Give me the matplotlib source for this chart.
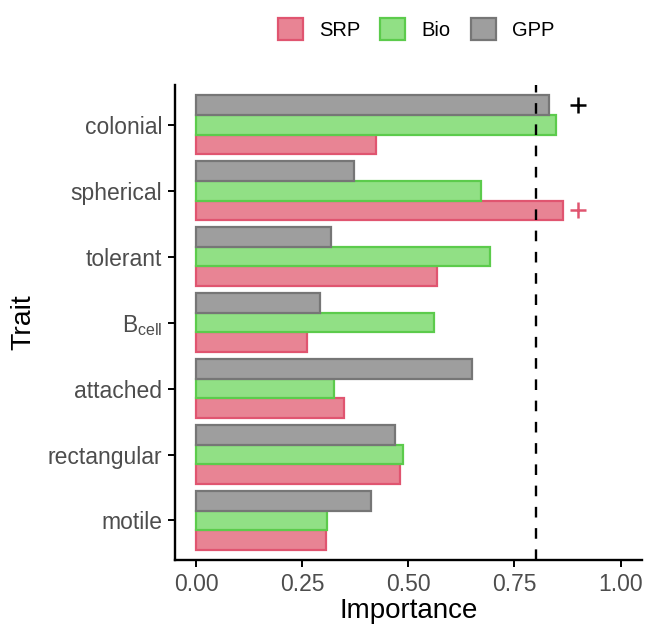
import numpy as np
import matplotlib.pyplot as plt
from matplotlib.patches import Patch

plt.rcParams['font.family'] = ['Liberation Sans', 'DejaVu Sans']
plt.rcParams['mathtext.default'] = 'regular'

# trait importance per response
traits = ['colonial', 'spherical', 'tolerant', r'B$_{cell}$', 'attached', 'rectangular', 'motile']
srp = [0.424, 0.865, 0.567, 0.261, 0.349, 0.481, 0.307]
bio = [0.847, 0.671, 0.692, 0.560, 0.324, 0.487, 0.309]
gpp = [0.832, 0.371, 0.317, 0.291, 0.651, 0.469, 0.412]
threshold = 0.80

# significant traits marked with "+"
sig_traits = ['colonial', 'spherical']
sig_series = ['GPP', 'SRP']
sig_x = 0.90

series = ['SRP', 'Bio', 'GPP']
values = {'SRP': srp, 'Bio': bio, 'GPP': gpp}
fills = {'SRP': '#E88494', 'Bio': '#91E085', 'GPP': '#9E9E9E'}
edges = {'SRP': '#E05570', 'Bio': '#5CCB4C', 'GPP': '#767676'}
mark_col = {'SRP': '#E05570', 'Bio': '#5CCB4C', 'GPP': 'black'}

fig = plt.figure(figsize=(6.45, 6.3), dpi=100)
ax = fig.add_axes([0.271, 0.111, 0.724, 0.754])

n = len(traits)
ypos = np.arange(n)[::-1]  # first trait at the top
w = 0.3
offsets = {'SRP': -w, 'Bio': 0.0, 'GPP': w}

for s in series:
    ax.barh(ypos + offsets[s], values[s], height=w, color=fills[s],
            edgecolor=edges[s], linewidth=1.6, zorder=2)

ax.axvline(threshold, color='black', lw=1.7, ls=(0, (4.5, 4.5)), zorder=3)

for t, s in zip(sig_traits, sig_series):
    i = traits.index(t)
    ax.plot(sig_x, ypos[i] + offsets[s], marker='+', ms=11, mew=1.8,
            color=mark_col[s], ls='none', zorder=4)

ax.set_xlim(-0.05, 1.05)
ax.set_ylim(-0.6, n - 1 + 0.6)
ax.set_xticks([0, 0.25, 0.5, 0.75, 1.0])
ax.set_xticklabels(['0.00', '0.25', '0.50', '0.75', '1.00'])
ax.set_yticks(ypos)
ax.set_yticklabels(traits)

for sp in ['top', 'right']:
    ax.spines[sp].set_visible(False)
for sp in ['left', 'bottom']:
    ax.spines[sp].set_linewidth(1.7)
ax.tick_params(axis='both', length=5, width=1.4, labelsize=16.5,
               labelcolor='#4D4D4D', pad=4)

ax.set_xlabel('Importance', fontsize=20, labelpad=2)
ax.set_ylabel('Trait', fontsize=20.5, labelpad=8)

handles = [Patch(facecolor=fills[s], edgecolor=edges[s], linewidth=1.6, label=s)
           for s in series]
fig.legend(handles=handles, loc='center', bbox_to_anchor=(0.645, 0.954), ncol=3,
           frameon=False, fontsize=14.5, handlelength=1.25, handleheight=1.25,
           handletextpad=0.8, columnspacing=1.0)

fig.savefig('out.png', dpi=100)
